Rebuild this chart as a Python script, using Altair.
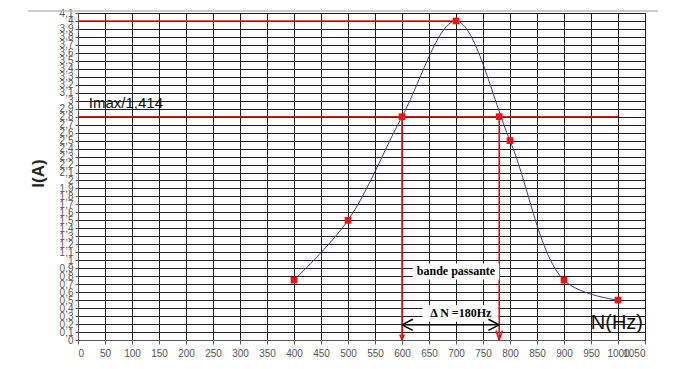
import altair as alt
import pandas as pd

# measured series
freq = [400, 500, 600, 700, 800, 900, 1000]
current = [0.75, 1.5, 2.8, 4.0, 2.5, 0.75, 0.5]

# annotation points
mark_x = [400, 500, 600, 700, 780, 800, 900, 1000]
mark_y = [0.75, 1.5, 2.8, 4.0, 2.8, 2.5, 0.75, 0.5]

# red guide lines
h_y = [4.0, 2.8]
h_x1 = [0, 0]
h_x2 = [700, 1000]
v_x = [600, 780]
v_y1 = [0, 0]
v_y2 = [2.8, 2.8]

# red arrow-head strokes at the bottom of the vertical guides
rh_x1 = [600, 600, 780, 780]
rh_y1 = [0.0, 0.0, 0.0, 0.0]
rh_x2 = [596, 604, 774, 786]
rh_y2 = [0.07, 0.07, 0.12, 0.12]

# bandwidth arrow
arrow_x1, arrow_x2, arrow_y = 600, 780, 0.19
# black arrow-head strokes
bh_x1 = [600, 600, 780, 780]
bh_y1 = [0.19, 0.19, 0.19, 0.19]
bh_x2 = [620, 620, 760, 760]
bh_y2 = [0.26, 0.12, 0.26, 0.12]

# text boxes
box_x1 = [620, 638]
box_x2 = [780, 778]
box_y1 = [0.76, 0.23]
box_y2 = [0.96, 0.44]
box_text = ["bande passante", "\u0394 N =180Hz"]
box_tx = [700, 709]
box_ty = [0.86, 0.34]

x_ticks = list(range(0, 1051, 50))
y_ticks = [round(i / 10, 1) for i in range(0, 42)]

xs = alt.Scale(domain=[0, 1050], nice=False)
ys = alt.Scale(domain=[0, 4.1], nice=False)

lab_font = "Liberation Sans Narrow, Arial"

x_axis = alt.Axis(
    values=x_ticks, title=None, grid=True, gridColor="#1e1e1e", gridOpacity=1,
    format="d", labelColor="#555", labelFontSize=10, labelFont=lab_font, tickColor="#555",
    tickSize=4, labelPadding=4, domainColor="#555", labelOverlap=False)
y_axis = alt.Axis(
    values=y_ticks, title="I(A)", grid=True, gridColor="#1e1e1e", gridOpacity=1,
    labelExpr="replace(format(datum.value, '.1~f'), '.', ',')",
    labelColor="#555", labelFontSize=10, labelFont=lab_font, tickColor="#555",
    tickSize=3, labelPadding=2, domainColor="#555", labelOverlap=False,
    titleFontSize=17, titleFont="Arial", titleFontWeight="bold", titleColor="#222",
    titleAngle=-90, titleX=-40, titleY=160, titleAlign="center", titleBaseline="middle")


def X(field):
    return alt.X(field, scale=xs, axis=x_axis)


def Y(field):
    return alt.Y(field, scale=ys, axis=y_axis)


base_df = pd.DataFrame({"N": freq, "I": current})
line = alt.Chart(base_df).mark_line(
    color="#3b3b8f", strokeWidth=1, interpolate="catmull-rom"
).encode(x=X("N:Q"), y=Y("I:Q"))

hdf = pd.DataFrame({"y": h_y, "x1": h_x1, "x2": h_x2})
hlines = alt.Chart(hdf).mark_rule(color="#e8100e", strokeWidth=1.6).encode(
    x=X("x1:Q"), x2="x2:Q", y=Y("y:Q"))

vdf = pd.DataFrame({"x": v_x, "y1": v_y1, "y2": v_y2})
vlines = alt.Chart(vdf).mark_rule(color="#e8100e", strokeWidth=1.6).encode(
    x=X("x:Q"), y=Y("y1:Q"), y2="y2:Q")

rhdf = pd.DataFrame({"x1": rh_x1, "y1": rh_y1, "x2": rh_x2, "y2": rh_y2})
vheads = alt.Chart(rhdf).mark_rule(color="#e8100e", strokeWidth=1.6).encode(
    x=X("x1:Q"), y=Y("y1:Q"), x2="x2:Q", y2="y2:Q")

mdf = pd.DataFrame({"x": mark_x, "y": mark_y})
markers = alt.Chart(mdf).mark_square(color="#ee1111", size=45, opacity=1).encode(
    x=X("x:Q"), y=Y("y:Q"))

bdf = pd.DataFrame({"x1": box_x1, "x2": box_x2, "y1": box_y1, "y2": box_y2,
                    "t": box_text, "tx": box_tx, "ty": box_ty})
boxes = alt.Chart(bdf).mark_rect(color="white").encode(
    x=X("x1:Q"), x2="x2:Q", y=Y("y1:Q"), y2="y2:Q")
box_texts = alt.Chart(bdf).mark_text(
    font="Liberation Serif", fontWeight="bold", fontSize=12, color="black"
).encode(x=X("tx:Q"), y=Y("ty:Q"), text="t:N")

adf = pd.DataFrame({"x1": [arrow_x1], "x2": [arrow_x2], "y": [arrow_y]})
arrow = alt.Chart(adf).mark_rule(color="black", strokeWidth=1.5).encode(
    x=X("x1:Q"), x2="x2:Q", y=Y("y:Q"))
bhdf = pd.DataFrame({"x1": bh_x1, "y1": bh_y1, "x2": bh_x2, "y2": bh_y2})
arrow_heads = alt.Chart(bhdf).mark_rule(color="black", strokeWidth=1.5).encode(
    x=X("x1:Q"), y=Y("y1:Q"), x2="x2:Q", y2="y2:Q")

lab1_df = pd.DataFrame({"x": [20], "y": [2.97], "t": ["Imax/1,414"]})
lab2_df = pd.DataFrame({"x": [998], "y": [0.21], "t": ["N(Hz)"]})
lab1 = alt.Chart(lab1_df).mark_text(
    font="Arial", fontSize=15, color="#111", align="left").encode(
    x=X("x:Q"), y=Y("y:Q"), text="t:N")
lab2 = alt.Chart(lab2_df).mark_text(
    font="Arial", fontSize=20, color="#111", align="center").encode(
    x=X("x:Q"), y=Y("y:Q"), text="t:N")

top_rule = alt.Chart(pd.DataFrame({"a": [0]})).mark_rule(color="#bbbbbb", strokeWidth=1.5).encode(
    x=alt.value(-50), x2=alt.value(580), y=alt.value(-2))

chart = alt.layer(
    line, hlines, vlines, vheads, boxes, box_texts, arrow, arrow_heads,
    markers, lab1, lab2, top_rule
).properties(
    width=567, height=327,
    autosize=alt.AutoSizeParams(type="none"),
    padding={"left": 70, "top": 5, "right": 30, "bottom": 25},
).configure_view(
    fill="#d4d4d4", stroke="#777"
).configure(background="white")

chart.save("out.html", embed_options={"renderer": "svg", "actions": False})
